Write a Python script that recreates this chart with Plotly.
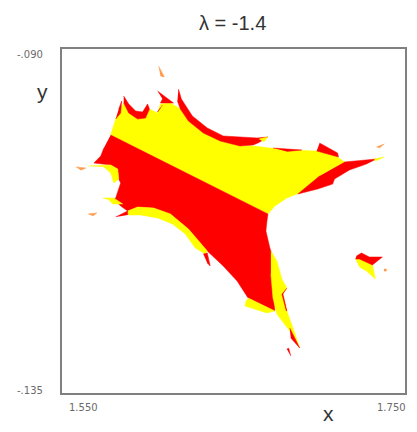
import plotly.graph_objects as go

RED = '#ff0000'
YELLOW = '#ffff00'
ORANGE = '#ff9a4a'
GREY_TEXT = '#6a6a6a'

# region outlines, in data units (x, y)
band_red_x = [1.5784, 1.6701, 1.6695, 1.6689, 1.6712, 1.6724, 1.6741, 1.6585, 1.6521, 1.6440, 1.6347, 1.6237, 1.6132,
              1.6034, 1.5941, 1.5883, 1.5842, 1.5802, 1.5813, 1.5831, 1.5842, 1.5831, 1.5825, 1.5784, 1.5686, 1.5726,
              1.5744]
band_red_y = [-.10125, -.11158, -.1125, -.1138, -.11603, -.11681, -.12427, -.12257, -.12035, -.11838, -.11642, -.11354,
              -.11158, -.1108, -.11067, -.11119, -.11054, -.10962, -.10949, -.10818, -.10753, -.107, -.1057, -.10517,
              -.10491, -.104, -.10295]

band_yellow_x = [1.5784, 1.5813, 1.5860, 1.5889, 1.5941, 1.5987, 1.6010, 1.6057, 1.6074, 1.6132, 1.6190, 1.6237, 1.6324,
                 1.6422, 1.6538, 1.6614, 1.6811, 1.6985, 1.7107, 1.7147, 1.7002, 1.6886, 1.6811, 1.6741, 1.6701]
band_yellow_y = [-.10125, -.09916, -.09706, -.09837, -.09916, -.09903, -.09785, -.09837, -.09719, -.09706, -.09785,
                 -.09942, -.10099, -.10203, -.10269, -.10269, -.10321, -.10334, -.10413, -.10478, -.10661, -.10884,
                 -.10949, -.11054, -.11158]

arch_x = [1.5860, 1.5889, 1.5929, 1.5970, 1.5999, 1.6010, 1.5987, 1.5941, 1.5889, 1.5860]
arch_y = [-.09615, -.09719, -.09811, -.09824, -.09719, -.09785, -.09903, -.09916, -.09837, -.09706]

left_fleck_x = [1.5813, 1.5842, 1.5848, 1.5831]
left_fleck_y = [-.09916, -.09837, -.0968, -.09785]

peak_x = [1.6057, 1.6115, 1.6150, 1.6074, 1.6086]
peak_y = [-.09549, -.09641, -.09706, -.09706, -.09654]

spike_x = [1.6074, 1.6057, 1.6086]
spike_y = [-.09772, -.09824, -.09732]

crescent_x = [1.6179, 1.6196, 1.6260, 1.6347, 1.6440, 1.6538, 1.6637, 1.6701, 1.6643, 1.6614, 1.6538, 1.6422, 1.6324,
              1.6237, 1.6190, 1.6173]
crescent_y = [-.09523, -.09654, -.09876, -.10033, -.10138, -.10151, -.10164, -.10151, -.1023, -.10256, -.10269, -.10203,
              -.10099, -.09942, -.09785, -.0968]

crescent_tip_x = [1.6648, 1.6701, 1.6677]
crescent_tip_y = [-.10177, -.10151, -.10216]

sliver_x = [1.6730, 1.6898, 1.6811]
sliver_y = [-.10295, -.10321, -.1034]

triangle_x = [1.7002, 1.7107, 1.7112, 1.6985]
triangle_y = [-.1023, -.1036, -.10413, -.10334]

right_red_x = [1.7147, 1.7333, 1.7275, 1.7176, 1.7089, 1.7078, 1.6991, 1.6875, 1.7002]
right_red_y = [-.10478, -.10439, -.10504, -.10583, -.107, -.10766, -.10831, -.10897, -.10661]

right_tip_x = [1.7321, 1.7379, 1.7327]
right_tip_y = [-.10439, -.10413, -.10465]

island_red_x = [1.7217, 1.7246, 1.7292, 1.7368, 1.7310, 1.7234, 1.7211]
island_red_y = [-.11708, -.11668, -.11721, -.11721, -.11825, -.11747, -.11747]

island_yellow_x = [1.7211, 1.7234, 1.7310, 1.7327, 1.7275, 1.7234]
island_yellow_y = [-.11747, -.11747, -.11825, -.12008, -.11904, -.11851]

lower_band_x = [1.5883, 1.5941, 1.6034, 1.6132, 1.6237, 1.6347, 1.6335, 1.6277, 1.6219, 1.6144, 1.6057, 1.5958, 1.5883]
lower_band_y = [-.11119, -.11067, -.1108, -.11158, -.11354, -.11642, -.11681, -.11603, -.1142, -.11289, -.1121, -.11171,
                -.11171]

lower_spike_x = [1.6324, 1.6347, 1.6364, 1.6347]
lower_spike_y = [-.11681, -.11668, -.11838, -.11799]

lower_left_spike_x = [1.5813, 1.5883, 1.5883]
lower_left_spike_y = [-.11197, -.11119, -.11171]

spur_x = [1.5738, 1.5802, 1.5854, 1.5796, 1.5773]
spur_y = [-.10949, -.10949, -.11027, -.11027, -.10975]

bay_x = [1.5651, 1.5784, 1.5825, 1.5831, 1.5802, 1.5784, 1.5744]
bay_y = [-.1053, -.10517, -.1057, -.107, -.10753, -.10622, -.10543]

foot_x = [1.6585, 1.6741, 1.6695, 1.6608, 1.6567, 1.6573]
foot_y = [-.12257, -.12427, -.12453, -.12388, -.12362, -.12296]

tail_x = [1.6718, 1.6753, 1.6782, 1.6811, 1.6788, 1.6811, 1.6857, 1.6886, 1.6828, 1.6753, 1.6730, 1.6718]
tail_y = [-.11642, -.11773, -.12008, -.12126, -.12205, -.12427, -.12715, -.12911, -.12689, -.12466, -.12257, -.11943]

tail_edge_x = [1.6811, 1.6788, 1.6811, 1.6808, 1.6782]
tail_edge_y = [-.12126, -.12205, -.12427, -.12427, -.12205]

tail_low_x = [1.6828, 1.6886, 1.6834]
tail_low_y = [-.12649, -.12911, -.1278]

tail_fleck_x = [1.6811, 1.6822, 1.6834]
tail_fleck_y = [-.12924, -.12915, -.13016]

top_fleck_x = [1.6063, 1.6097, 1.6074]
top_fleck_y = [-.09222, -.09366, -.09353]

upper_fleck_x = [1.7333, 1.7379, 1.7350]
upper_fleck_y = [-.10282, -.10243, -.10295]

low_fleck_x = [1.5651, 1.5703, 1.5680]
low_fleck_y = [-.11158, -.11145, -.11184]

side_fleck_x = [1.5581, 1.5639, 1.5610]
side_fleck_y = [-.10543, -.10557, -.10585]

regions = [
    (band_yellow_x, band_yellow_y, YELLOW),
    (band_red_x, band_red_y, RED),
    (arch_x, arch_y, RED),
    (left_fleck_x, left_fleck_y, RED),
    (peak_x, peak_y, RED),
    (spike_x, spike_y, RED),
    (crescent_x, crescent_y, RED),
    (crescent_tip_x, crescent_tip_y, YELLOW),
    (sliver_x, sliver_y, RED),
    (triangle_x, triangle_y, RED),
    (right_red_x, right_red_y, RED),
    (right_tip_x, right_tip_y, YELLOW),
    (island_yellow_x, island_yellow_y, YELLOW),
    (island_red_x, island_red_y, RED),
    (lower_band_x, lower_band_y, YELLOW),
    (lower_spike_x, lower_spike_y, RED),
    (lower_left_spike_x, lower_left_spike_y, RED),
    (spur_x, spur_y, YELLOW),
    (bay_x, bay_y, YELLOW),
    (foot_x, foot_y, YELLOW),
    (tail_x, tail_y, YELLOW),
    (tail_edge_x, tail_edge_y, RED),
    (tail_low_x, tail_low_y, RED),
    (tail_fleck_x, tail_fleck_y, RED),
    (top_fleck_x, top_fleck_y, ORANGE),
    (upper_fleck_x, upper_fleck_y, ORANGE),
    (low_fleck_x, low_fleck_y, ORANGE),
    (side_fleck_x, side_fleck_y, ORANGE),
]

dot_x = [1.7385]
dot_y = [-.11891]

fig = go.Figure()
for xs, ys, color in regions:
    fig.add_trace(go.Scatter(x=xs, y=ys, mode='lines', fill='toself', fillcolor=color,
                             line=dict(color=color, width=0.5), hoverinfo='skip', showlegend=False))
fig.add_trace(go.Scatter(x=dot_x, y=dot_y, mode='markers', marker=dict(color=ORANGE, size=3), showlegend=False))

axis_style = dict(showgrid=False, zeroline=False, showticklabels=False, ticks='', showline=True, mirror=True,
                  linecolor='#808080', linewidth=2)
fig.update_xaxes(range=[1.55, 1.75], **axis_style)
fig.update_yaxes(range=[-.135, -.09], **axis_style)


def label(text, px, py, size, color, family):
    fig.add_annotation(text=text, xref='paper', yref='paper', x=(px - 62) / 345, y=(393 - py) / 344, showarrow=False,
                       xanchor='center', yanchor='middle', font=dict(size=size, color=color, family=family))


label('λ = -1.4', 233, 23, 20, '#333333', 'Liberation Sans')
label('y', 42, 91, 21, '#333333', 'Liberation Sans')
label('x', 330, 414, 21, '#333333', 'Liberation Sans')
label('-.090', 30, 54, 10, GREY_TEXT, 'DejaVu Sans')
label('-.135', 30, 390, 10, GREY_TEXT, 'DejaVu Sans')
label('1.550', 84, 407, 10, GREY_TEXT, 'DejaVu Sans')
label('1.750', 393, 407, 10, GREY_TEXT, 'DejaVu Sans')

# the page keeps an 8px body margin, so the figure is 8px smaller each way
fig.update_layout(width=409, height=424, margin=dict(l=54, r=10, t=41, b=39), paper_bgcolor='white',
                  plot_bgcolor='white')
fig.write_html("out.html")
